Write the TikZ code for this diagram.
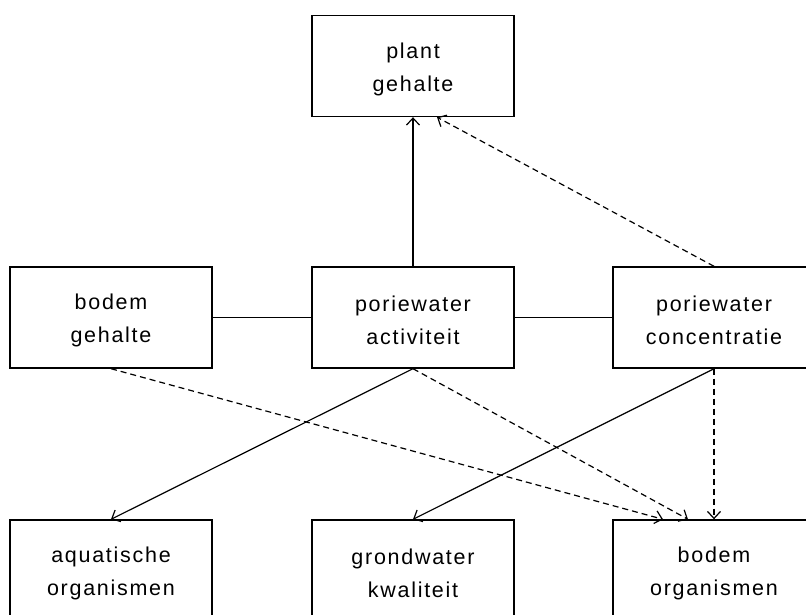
\documentclass[tikz,border=0pt]{standalone}
\usepackage{fontspec}
\setmainfont[LetterSpace=8]{Liberation Sans}
\usetikzlibrary{arrows.meta}
\begin{document}
\begin{tikzpicture}[x=1pt,y=-1pt,
  box/.style={draw, line width=1.4pt, minimum width=202pt, minimum height=101pt, inner sep=0pt},
  lbl/.style={align=center, font=\fontsize{21.5}{33}\selectfont, inner sep=0pt},
  conn/.style={line width=1.2pt},
  arr/.style={conn, -{Straight Barb[length=7pt,width=13pt]}},
  darr/.style={arr, dash pattern=on 6pt off 4pt}]
\useasboundingbox (0,0) rectangle (806,615);
\node[box] (plant) at (413,66) {};
\node[box] (bg) at (111,317.5) {};
\node[box] (pa) at (413,317.5) {};
\node[box] (pc) at (714,317.5) {};
\node[box] (ao) at (111,570.5) {};
\node[box] (gk) at (413,570.5) {};
\node[box] (bo) at (714,570.5) {};
\node[lbl] (tplant) at ([yshift=-3pt]plant.center) {plant\\gehalte};
\node[lbl] (tbg) at ([yshift=-3pt]bg.center) {bodem\\gehalte};
\node[lbl] (tpa) at ([yshift=-3pt]pa.center) {poriewater\\activiteit};
\node[lbl] (tpc) at ([yshift=-3pt]pc.center) {poriewater\\concentratie};
\node[lbl] (tao) at ([yshift=-3pt]ao.center) {aquatische\\organismen};
\node[lbl] (tgk) at ([yshift=-3pt]gk.center) {grondwater\\kwaliteit};
\node[lbl] (tbo) at ([yshift=-3pt]bo.center) {bodem\\organismen};
\draw[conn] (bg.east) -- (pa.west);
\draw[conn] (pa.east) -- (pc.west);
\draw[arr] (pa.north) -- (plant.south);
\draw[darr] (pc.north) -- ([xshift=24pt]plant.south);
\draw[arr] (pa.south) -- (ao.north);
\draw[arr] (pc.south) -- (gk.north);
\draw[darr] (bg.south) -- ([xshift=-51pt]bo.north);
\draw[darr] (pa.south) -- ([xshift=-26pt]bo.north);
\draw[darr] (pc.south) -- (bo.north);
\end{tikzpicture}
\end{document}
